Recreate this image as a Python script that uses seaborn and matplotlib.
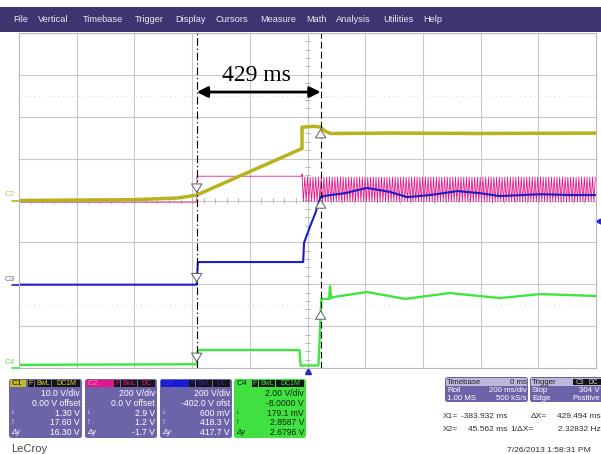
import numpy as np
import matplotlib
matplotlib.use("Agg")
import matplotlib.pyplot as plt
import seaborn as sns
from matplotlib.patches import Rectangle, FancyBboxPatch

# scope settings
time_per_div = 200.0          # ms/div, 10 divisions
cursor_x1 = -383.932          # ms
cursor_x2 = 45.562            # ms
trig_level_c3 = 304.0         # V
ch_vdiv = [10.0, 200.0, 200.0, 2.0]
ch_offset = [0.0, 0.0, -402.0, -8.0]
ch_colors = ["#b8b21e", "#e6198a", "#1c1cc6", "#3ee63e"]

# traces: time (ms), volts
c1_t = [-1000, -600, -450, -384, -26, -19, -19, 20, 43, 60, 80, 300, 600, 1000]
c1_v = [0.0, 0.2, 0.6, 1.3, 12.2, 12.4, 17.5, 17.7, 17.6, 16.6, 16.0, 16.1, 16.0, 16.1]

c2_t = [-1000, -384, -383, -19, -19]
c2_v = [-8, -8, 116, 116, 126]
c2_sw_start, c2_sw_end = -19, 1000
c2_sw_high, c2_sw_low = 112, -6
c2_sw_period = 9.5

c3_t = [-1000, -384, -380, -15, -12, 8, 28, 45, 65, 130, 206, 286, 345, 425, 520, 598, 667, 806, 910, 1000]
c3_v = [0, 0, 108, 108, 200, 275, 345, 418, 425, 437, 462, 443, 418, 428, 447, 437, 423, 432, 428, 428]

c4_t = [-1000, -384, -380, -28, -24, 38, 48, 75, 78, 82, 95, 206, 338, 494, 667, 806, 1000]
c4_v = [0.15, 0.18, 0.86, 0.86, 0.12, 0.12, 3.3, 3.3, 3.9, 3.35, 3.4, 3.63, 3.3, 3.58, 3.34, 3.53, 3.44]

# cursor readings (V) at X1 / X2 for C1, C3, C4
x1_read = {0: 1.30, 2: 0.6, 3: 0.1791}
x2_read = {0: 17.60, 2: 418.3, 3: 2.8587}

menu_items = ["File", "Vertical", "Timebase", "Trigger", "Display", "Cursors",
              "Measure", "Math", "Analysis", "Utilities", "Help"]
menu_x = [13, 38, 83, 135, 175, 215, 260, 306, 336, 383, 423]

c1_rows = ["10.0 V/div", "0.00 V offset", "1.30 V", "17.60 V", "16.30 V"]
c2_rows = ["200 V/div", "0.0 V offset", "2.9 V", "1.2 V", "-1.7 V"]
c3_rows = ["200 V/div", "-402.0 V ofst", "600 mV", "418.3 V", "417.7 V"]
c4_rows = ["2.00 V/div", "-8.0000 V", "179.1 mV", "2.8587 V", "2.6796 V"]


def to_div(v, ch):
    return (np.asarray(v, dtype=float) + ch_offset[ch]) / ch_vdiv[ch]


sns.set_style("white")
plt.rcParams["font.family"] = ["Liberation Sans", "DejaVu Sans"]

fig = plt.figure(figsize=(6.01, 4.54), dpi=100)
W, H = 601, 454
px_ms = time_per_div / 57.7   # ms per pixel on the grid

# background / UI layer in pixel coordinates
bx = fig.add_axes([0, 0, 1, 1])
bx.set_xlim(0, W)
bx.set_ylim(H, 0)
bx.axis("off")

bx.add_patch(Rectangle((0, 7), W, 25, fc="#3d3470", ec="none"))
for name, xm in zip(menu_items, menu_x):
    bx.text(xm, 19.5, name, color="#ecebf4", fontsize=6.7, va="center", ha="left")

body_col = "#6c64a8"


def channel_panel(x0, x1, head_col, head_w, title, title_col, badges, badge_fg,
                  rows, body, text_col):
    y0, y1 = 379, 438
    bx.add_patch(FancyBboxPatch((x0, y0), x1 - x0, y1 - y0,
                                boxstyle="round,pad=0,rounding_size=2.5",
                                fc=body, ec="none"))
    bx.add_patch(Rectangle((x0 + 1, y0 + 1), head_w, 7, fc=head_col, ec="none"))
    bx.text(x0 + 2.5, y0 + 4.7, title, color=title_col, fontsize=6, va="center")
    xr = x1 - 1
    for lab, w in reversed(badges):
        bx.add_patch(Rectangle((xr - w, y0 + 1), w - 0.8, 7, fc="#151515", ec="none"))
        bx.text(xr - w / 2 - 0.4, y0 + 4.7, lab, color=badge_fg, fontsize=5,
                va="center", ha="center")
        xr -= w
    row_y = [394, 403.5, 413, 422.7, 432.3]
    for r, yy in zip(rows, row_y):
        bx.text(x1 - 2, yy, r, color=text_col, fontsize=6.2, va="center", ha="right")
    for s, yy in zip(["\u2193", "\u2191", "\u0394y"], row_y[2:]):
        bx.text(x0 + 2, yy, s, color=text_col, fontsize=5.5, va="center", ha="left",
                style="italic" if s.startswith("\u0394") else "normal")


full_badges = [("F", 7.5), ("BwL", 17), ("DC1M", 29)]
short_badges = [("F", 7), ("BwL", 17), ("DC", 18)]
channel_panel(9, 82, "#c2b92c", 16, "C1", "#1a1a00", full_badges, "#d8cf40",
              c1_rows, body_col, "white")
channel_panel(85, 157, "#e2178c", 28, "C2", "#f080c0", short_badges, "#e2178c",
              c2_rows, body_col, "white")
channel_panel(160, 232, "#1a1ad0", 28, "C3", "#3030e0", short_badges, "#2828a0",
              c3_rows, body_col, "white")
channel_panel(234, 306, "#3fe03f", 0, "C4", "#0a200a", full_badges, "#3fe03f",
              c4_rows, "#3fe03f", "#0c280c")

# timebase / trigger panels
tb_fs = 5.7
bx.add_patch(FancyBboxPatch((445, 377), 83, 25, boxstyle="round,pad=0,rounding_size=2.5",
                            fc=body_col, ec="none"))
bx.add_patch(Rectangle((446, 378), 81, 8, fc="#bdb8da", ec="none"))
bx.text(447, 382, "Timebase", fontsize=tb_fs, color="#202020", va="center")
bx.text(527, 382, "0 ms", fontsize=tb_fs, color="#202020", va="center", ha="right")
bx.text(447, 391, "Roll", fontsize=tb_fs, color="white", va="center")
bx.text(527, 391, "200 ms/div", fontsize=tb_fs, color="white", va="center", ha="right")
bx.text(447, 398.3, "1.00 MS", fontsize=tb_fs, color="white", va="center")
bx.text(527, 398.3, "500 kS/s", fontsize=tb_fs, color="white", va="center", ha="right")

bx.add_patch(FancyBboxPatch((530, 377), 74, 25, boxstyle="round,pad=0,rounding_size=2.5",
                            fc=body_col, ec="none"))
bx.add_patch(Rectangle((531, 378), 72, 8, fc="#bdb8da", ec="none"))
bx.text(532, 382, "Trigger", fontsize=tb_fs, color="#202020", va="center")
for lab, xb in [("C3", 573), ("DC", 587)]:
    bx.add_patch(Rectangle((xb, 378.7), 13.5, 6.6, fc="#151515", ec="none"))
    bx.text(xb + 6.7, 382, lab, fontsize=4.8, color="#d0d0e8", va="center", ha="center")
bx.text(532, 391, "Stop", fontsize=tb_fs, color="white", va="center")
bx.text(600, 391, "304 V", fontsize=tb_fs, color="white", va="center", ha="right")
bx.text(532, 398.3, "Edge", fontsize=tb_fs, color="white", va="center")
bx.text(600, 398.3, "Positive", fontsize=tb_fs, color="white", va="center", ha="right")

cur_col = "#303030"
cur_fs = 6.0
bx.text(443, 416.5, "X1=", fontsize=cur_fs, color=cur_col, va="center")
bx.text(507, 416.5, "-383.932 ms", fontsize=cur_fs, color=cur_col, va="center", ha="right")
bx.text(531, 416.5, "\u0394X=", fontsize=cur_fs, color=cur_col, va="center")
bx.text(601, 416.5, "429.494 ms", fontsize=cur_fs, color=cur_col, va="center", ha="right")
bx.text(443, 429.5, "X2=", fontsize=cur_fs, color=cur_col, va="center")
bx.text(507, 429.5, "45.562 ms", fontsize=cur_fs, color=cur_col, va="center", ha="right")
bx.text(510, 429.5, "1/\u0394X=", fontsize=cur_fs, color=cur_col, va="center")
bx.text(601, 429.5, "2.32832 Hz", fontsize=cur_fs, color=cur_col, va="center", ha="right")

bx.text(507, 450.5, "7/26/2013 1:58:31 PM", fontsize=6.1, color=cur_col, va="center")
bx.text(11, 449.5, "LeCroy", fontsize=8, color="#484848", va="center")

# scope grid in time / division coordinates
ax = fig.add_axes([19 / W, (H - 368) / H, 577 / W, 335 / H])
ax.set_xlim(-5 * time_per_div, 5 * time_per_div)
ax.set_ylim(-4, 4)
ax.set_xticks(np.arange(-5, 6) * time_per_div)
ax.set_yticks(np.arange(-4, 5))
ax.grid(True, color="#c9c9c9", lw=0.8)
ax.tick_params(length=0, labelbottom=False, labelleft=False)
for s in ax.spines.values():
    s.set_color("#b8b8b8")
    s.set_linewidth(0.8)
for yy in (2.5, -2.5):
    ax.axhline(yy, color="#d4d4d4", lw=0.7, ls=(0, (1, 4)))
# minor ticks on the centre lines
for tt in np.arange(-1000, 1001, 40):
    ax.plot([tt, tt], [-0.05, 0.05], color="#b0b0b0", lw=0.6)
for yy in np.arange(-4, 4.01, 0.2):
    ax.plot([-7, 7], [yy, yy], color="#b0b0b0", lw=0.6)

# C2: step then switching
half = c2_sw_period / 2
sw_t = np.arange(c2_sw_start + half, c2_sw_end, half)
sw_v = np.where(np.arange(len(sw_t)) % 2 == 0, c2_sw_low, c2_sw_high)
c2_all_t = np.concatenate([c2_t, sw_t])
c2_all_v = np.concatenate([c2_v, sw_v])
sns.lineplot(x=c2_all_t, y=to_div(c2_all_v, 1), ax=ax, color=ch_colors[1], lw=0.6,
             estimator=None, sort=False, legend=False)
sns.lineplot(x=c1_t, y=to_div(c1_v, 0), ax=ax, color=ch_colors[0], lw=2.5,
             estimator=None, sort=False, legend=False)
sns.lineplot(x=c3_t, y=to_div(c3_v, 2), ax=ax, color=ch_colors[2], lw=1.5,
             estimator=None, sort=False, legend=False)
sns.lineplot(x=c4_t, y=to_div(c4_v, 3), ax=ax, color=ch_colors[3], lw=1.7,
             estimator=None, sort=False, legend=False)

# cursors
ax.axvline(cursor_x1, color="black", lw=0.8, ls=(0, (7, 2.5, 1.2, 2.5)))
ax.axvline(cursor_x2, color="black", lw=0.8, ls=(0, (6, 3)))

arrow_kw = dict(arrowstyle="simple,head_length=0.6,head_width=0.75,tail_width=0.35",
                fc="white", ec="#606060", lw=0.7)
for ch, v in x1_read.items():
    ax.annotate("", xy=(cursor_x1, to_div(v, ch)), xytext=(0, 10),
                textcoords="offset points", arrowprops=arrow_kw)
for ch, v in x2_read.items():
    ax.annotate("", xy=(cursor_x2, to_div(v, ch)), xytext=(0, -10),
                textcoords="offset points", arrowprops=arrow_kw)

# delta-t annotation
ax.annotate("", xy=(cursor_x2, 2.59), xytext=(cursor_x1, 2.59),
            arrowprops=dict(arrowstyle="<|-|>", color="black", lw=2, mutation_scale=16,
                            shrinkA=0, shrinkB=0))
ax.text((cursor_x1 + cursor_x2) / 2 - 8, 2.98, "429 ms", family="Liberation Serif",
        fontsize=17, ha="center", va="center", color="black")

# channel ground labels on the left of the grid
for lab, ch, col, stub in [("C2", 1, "#c8c070", ch_colors[0]),
                           ("C3", 2, "#6a6aa8", ch_colors[2]),
                           ("C4", 3, "#6ad86a", ch_colors[3])]:
    yg = to_div(0, ch)
    ax.text(-1000 - 14 * px_ms, yg + 0.05, lab, fontsize=5.8, color=col,
            va="bottom", ha="left", clip_on=False)
    ax.plot([-1000 - 7 * px_ms, -1000], [yg, yg], color=stub, lw=1.2, clip_on=False)

# trigger position / level markers
ax.plot([0], [-4.08], marker="^", color="#2a2ad0", ms=5, clip_on=False)
ax.plot([1000 + 2 * px_ms], [to_div(trig_level_c3, 2)], marker="<", color="#2a2ad0",
        ms=3.5, clip_on=False)

fig.savefig("out.png", dpi=100)
